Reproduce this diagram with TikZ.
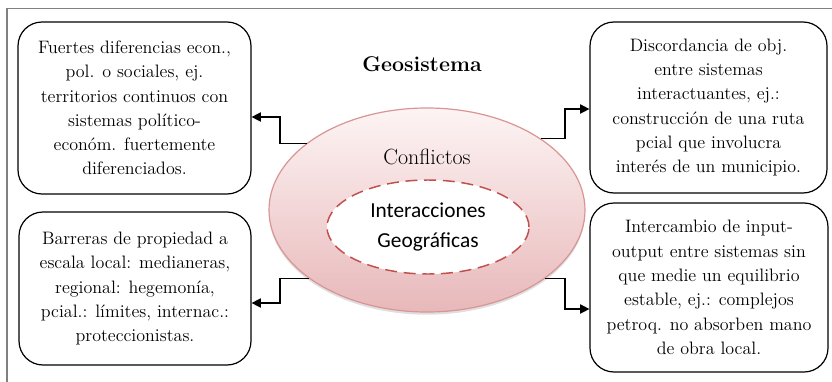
\documentclass[tikz,border=0pt]{standalone}
\usepackage{fontspec}
\newfontfamily\calibri{Carlito}
\usepackage{tikz}
\usetikzlibrary{arrows.meta,shapes.geometric,shadows}

\definecolor{rosaborde}{RGB}{217,149,148}
\definecolor{rosaclaro}{RGB}{253,244,244}
\definecolor{rosaosc}{RGB}{232,184,186}
\definecolor{rojodash}{RGB}{192,80,77}
\definecolor{gris}{RGB}{128,128,128}

\begin{document}
\begin{tikzpicture}[x=0.75pt,y=-0.75pt,
		caja/.style={draw,line width=0.9pt,rounded corners=18pt,align=center,
			font=\rmfamily\fontsize{13.5}{18.2}\selectfont},
		flecha/.style={line width=0.9pt,-{Triangle[length=7pt,width=7pt]}}]
	\useasboundingbox (0,0) rectangle (832,382);
	
	% marco
	\draw[gris,line width=1.4pt] (7,382) -- (7,8.5) -- (832,8.5);
	
	\node[font=\rmfamily\bfseries\fontsize{16}{19}\selectfont] (geo) at (422,64) {Geosistema};
	
	% elipses
	\node[ellipse,draw=rosaborde,line width=0.9pt,top color=rosaclaro,bottom color=rosaosc,
		minimum width=237pt,minimum height=153pt,
		drop shadow={opacity=0.25,shadow xshift=0pt,shadow yshift=-2pt}] (conf) at (427,210) {};
	\node[font=\rmfamily\fontsize{16.5}{19}\selectfont] (tconf) at (427,157) {Conflictos};
	\node[ellipse,draw=rojodash,dash pattern=on 9pt off 5pt,line width=1.1pt,fill=white,
		minimum width=151.5pt,minimum height=70.5pt,align=center,
		font=\calibri\fontsize{16}{22.5}\selectfont] (inter) at (428,227) {Interacciones\\Geográficas};
	
	% cajas
	\node[caja,minimum width=174.75pt,minimum height=129pt] (tl) at (134.5,108)
		{Fuertes diferencias econ.,\\ pol. o sociales, ej.\\ territorios continuos con\\ sistemas político-\\ económ. fuertemente\\ diferenciados.};
	\node[caja,minimum width=177.75pt,minimum height=128.25pt] (tr) at (708.5,107.5)
		{Discordancia de obj.\\ entre sistemas\\ interactuantes, ej.:\\ construcción de una ruta\\ pcial que involucra\\ interés de un municipio.};
	\node[caja,minimum width=174pt,minimum height=114.75pt] (bl) at (135,288.5)
		{Barreras de propiedad a\\ escala local: medianeras,\\ regional: hegemonía,\\ pcial.: límites, internac.:\\ proteccionistas.};
	\node[caja,minimum width=178.5pt,minimum height=126.75pt] (br) at (709,287.5)
		{Intercambio de input-\\ output entre sistemas sin\\ que medie un equilibrio\\ estable, ej.: complejos\\ petroq. no absorben mano\\ de obra local.};
	
	% flechas
	\coordinate (q1) at (280,117);
	\coordinate (q2) at (565,109);
	\coordinate (q3) at (280,303);
	\coordinate (q4) at (565,309);
	\draw[flecha] (conf.151) -| (q1) -- (q1 -| tl.east);
	\draw[flecha] (conf.32) -| (q2) -- (q2 -| tr.west);
	\draw[flecha] (conf.210) -| (q3) -- (q3 -| bl.east);
	\draw[flecha] (conf.-30) -| (q4) -- (q4 -| br.west);
\end{tikzpicture}
\end{document}
